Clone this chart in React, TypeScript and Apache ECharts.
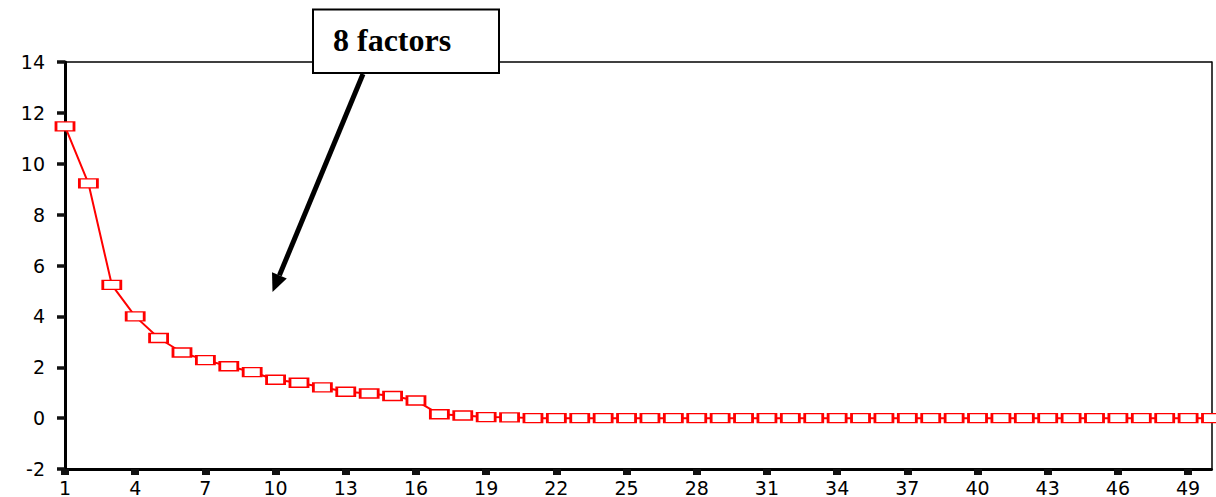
import React, { useEffect, useRef } from "react";
import * as echarts from "echarts";

const components: string[] = Array.from({ length: 50 }, (_, i) => String(i + 1));
const eigenvalues: number[] = [
  11.47, 9.23, 5.24, 4.0, 3.15, 2.58, 2.28, 2.04, 1.81, 1.51,
  1.39, 1.21, 1.04, 0.97, 0.87, 0.69, 0.15, 0.1, 0.04, 0.03,
  0, 0, 0, 0, 0, 0, 0, 0, 0, 0,
  0, 0, 0, 0, 0, 0, 0, 0, 0, 0,
  0, 0, 0, 0, 0, 0, 0, 0, 0, 0,
];
const annotationText = "8 factors";

export default function App() {
  const ref = useRef<HTMLDivElement>(null);
  useEffect(() => {
    if (!ref.current) return;
    const chart = echarts.init(ref.current, undefined, { renderer: "svg" });
    const labelFont = { fontFamily: "DejaVu Sans", fontSize: 19, color: "#000" };
    const tip = [272.5, 292];
    const tail = [363, 74];
    const dx = tip[0] - tail[0];
    const dy = tip[1] - tail[1];
    const len = Math.sqrt(dx * dx + dy * dy);
    const ux = dx / len, uy = dy / len;
    const headLen = 18, halfW = 8;
    const bc = [tip[0] - headLen * ux, tip[1] - headLen * uy];
    const nx = -uy, ny = ux;
    chart.setOption({
      animation: false,
      backgroundColor: "#fff",
      grid: {
        left: 65,
        right: 4.5,
        top: 62,
        bottom: 26,
      },
      xAxis: [
        {
          type: "category",
          data: components,
          boundaryGap: false,
          axisLine: { show: true, onZero: false, lineStyle: { color: "#000", width: 3 } },
          axisTick: { show: true, interval: 2, length: 6, lineStyle: { color: "#111111", width: 8 } },
          axisLabel: { interval: 2, margin: 9, ...labelFont },
          splitLine: { show: false },
        },
        {
          type: "category",
          data: components,
          position: "top",
          boundaryGap: false,
          axisLine: { show: true, onZero: false, lineStyle: { color: "#000", width: 1.5 } },
          axisTick: { show: false },
          axisLabel: { show: false },
          splitLine: { show: false },
        },
      ],
      yAxis: [
        {
          type: "value",
          min: -2,
          max: 14,
          interval: 2,
          axisLine: { show: true, onZero: false, lineStyle: { color: "#000", width: 3 } },
          axisTick: { show: true, length: 8, lineStyle: { color: "#111111", width: 3.5 } },
          axisLabel: { margin: 20, ...labelFont },
          splitLine: { show: false },
        },
        {
          type: "value",
          min: -2,
          max: 14,
          interval: 2,
          position: "right",
          axisLine: { show: true, onZero: false, lineStyle: { color: "#000", width: 1.5 } },
          axisTick: { show: false },
          axisLabel: { show: false },
          splitLine: { show: false },
        },
      ],
      series: [
        {
          type: "line",
          data: eigenvalues,
          symbol: "rect",
          symbolSize: [18, 9],
          showAllSymbol: true,
          lineStyle: { color: "#ff0000", width: 2 },
          itemStyle: { color: "#fff", borderColor: "#ff0000", borderWidth: 2 },
          z: 3,
        },
      ],
      graphic: [
        {
          type: "line",
          shape: { x1: tail[0], y1: tail[1], x2: bc[0], y2: bc[1] },
          style: { stroke: "#000", lineWidth: 5 },
          z: 10,
        },
        {
          type: "polygon",
          shape: {
            points: [
              [tip[0], tip[1]],
              [bc[0] + halfW * nx, bc[1] + halfW * ny],
              [bc[0] - halfW * nx, bc[1] - halfW * ny],
            ],
          },
          style: { fill: "#000" },
          z: 10,
        },
        {
          type: "rect",
          shape: { x: 313, y: 9.5, width: 186, height: 63.5 },
          style: { fill: "#fff", stroke: "#000", lineWidth: 2 },
          z: 11,
        },
        {
          type: "text",
          x: 333,
          y: 40,
          style: {
            text: annotationText,
            fontFamily: "Liberation Serif",
            fontWeight: "bold",
            fontSize: 32,
            fill: "#000",
            verticalAlign: "middle",
            align: "left",
          },
          z: 12,
        },
      ],
    });
    return () => chart.dispose();
  }, []);
  return <div ref={ref} style={{ width: 1216, height: 497, position: "absolute", left: 0, top: 0 }} />;
}
